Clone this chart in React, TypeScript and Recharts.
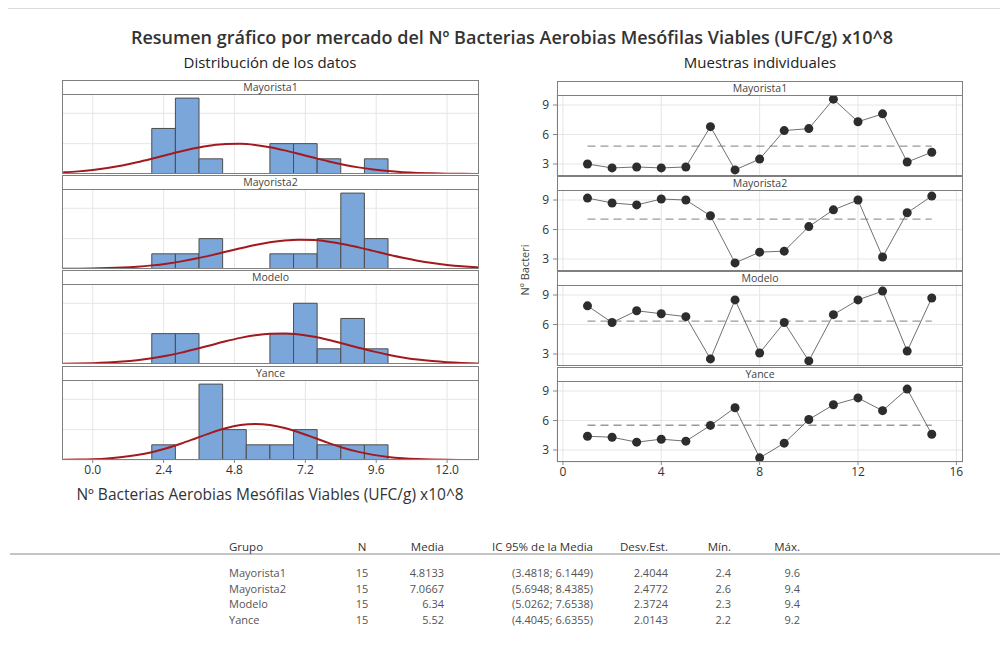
import { ComposedChart, Bar, Line, XAxis, YAxis, CartesianGrid, ReferenceLine } from 'recharts';

const GROUPS = ['Mayorista1', 'Mayorista2', 'Modelo', 'Yance'];

// histogram bins (midpoints, width 0.8) and counts
const BIN_MIDS = [2.4, 3.2, 4.0, 4.8, 5.6, 6.4, 7.2, 8.0, 8.8, 9.6];
const COUNTS_MAYORISTA1 = [3, 5, 1, 0, 0, 2, 2, 1, 0, 1];
const COUNTS_MAYORISTA2 = [1, 1, 2, 0, 0, 1, 1, 2, 5, 2];
const COUNTS_MODELO = [2, 2, 0, 0, 0, 2, 4, 1, 3, 1];
const COUNTS_YANCE = [1, 0, 5, 2, 1, 1, 2, 1, 1, 1];

// fitted normal curves, heights read along the x axis
const CURVE_X = [-1, -0.5, 0, 0.5, 1, 1.5, 2, 2.5, 3, 3.5, 4, 4.5, 5, 5.5, 6, 6.5, 7, 7.5, 8, 8.5, 9, 9.5, 10, 10.5, 11, 11.5, 12, 12.5, 13, 13.5];
const CURVE_MAYORISTA1 = [0.107, 0.173, 0.268, 0.398, 0.566, 0.77, 1.004, 1.253, 1.498, 1.715, 1.88, 1.974, 1.985, 1.912, 1.763, 1.557, 1.317, 1.067, 0.827, 0.615, 0.437, 0.298, 0.194, 0.121, 0.073, 0.042, 0.023, 0.012, 0.006, 0.003];
const CURVE_MAYORISTA2 = [0.01, 0.018, 0.033, 0.058, 0.096, 0.155, 0.239, 0.353, 0.502, 0.685, 0.898, 1.13, 1.365, 1.582, 1.761, 1.883, 1.932, 1.903, 1.8, 1.635, 1.425, 1.193, 0.959, 0.74, 0.548, 0.39, 0.266, 0.174, 0.11, 0.066];
const CURVE_MODELO = [0.017, 0.032, 0.057, 0.098, 0.16, 0.252, 0.379, 0.544, 0.749, 0.986, 1.241, 1.494, 1.72, 1.895, 1.997, 2.013, 1.941, 1.791, 1.58, 1.333, 1.076, 0.831, 0.614, 0.434, 0.293, 0.19, 0.117, 0.069, 0.039, 0.021];
const CURVE_YANCE = [0.013, 0.027, 0.056, 0.106, 0.192, 0.324, 0.516, 0.772, 1.087, 1.437, 1.788, 2.091, 2.299, 2.377, 2.31, 2.111, 1.814, 1.466, 1.114, 0.796, 0.534, 0.337, 0.2, 0.112, 0.059, 0.029, 0.013, 0.006, 0.002, 0.001];

// individual samples 1..15
const SAMPLE_NO = [1, 2, 3, 4, 5, 6, 7, 8, 9, 10, 11, 12, 13, 14, 15];
const VALUES_MAYORISTA1 = [3.0, 2.6, 2.7, 2.6, 2.7, 6.8, 2.4, 3.5, 6.4, 6.6, 9.6, 7.3, 8.1, 3.2, 4.2];
const VALUES_MAYORISTA2 = [9.2, 8.7, 8.5, 9.1, 9.0, 7.4, 2.6, 3.7, 3.8, 6.3, 8.0, 9.0, 3.2, 7.7, 9.4];
const VALUES_MODELO = [7.9, 6.2, 7.4, 7.1, 6.8, 2.5, 8.5, 3.1, 6.2, 2.3, 7.0, 8.5, 9.4, 3.3, 8.7];
const VALUES_YANCE = [4.4, 4.3, 3.8, 4.1, 3.9, 5.5, 7.3, 2.2, 3.7, 6.1, 7.6, 8.3, 7.0, 9.2, 4.6];

const HIST_TICKS = [0, 2.4, 4.8, 7.2, 9.6, 12];
const IND_X_TICKS = [0, 4, 8, 12, 16];
const IND_Y_TICKS = [3, 6, 9];

// summary table
const TABLE_HEAD = ['Grupo', 'N', 'Media', 'IC 95% de la Media', 'Desv.Est.', 'Mín.', 'Máx.'];
const TABLE_N = [15, 15, 15, 15];
const TABLE_MEAN = ['4.8133', '7.0667', '6.34', '5.52'];
const TABLE_CI = ['(3.4818; 6.1449)', '(5.6948; 8.4385)', '(5.0262; 7.6538)', '(4.4045; 6.6355)'];
const TABLE_SD = ['2.4044', '2.4772', '2.3724', '2.0143'];
const TABLE_MIN = ['2.4', '2.6', '2.3', '2.2'];
const TABLE_MAX = ['9.6', '9.4', '9.4', '9.2'];

const COUNTS = [COUNTS_MAYORISTA1, COUNTS_MAYORISTA2, COUNTS_MODELO, COUNTS_YANCE];
const CURVES = [CURVE_MAYORISTA1, CURVE_MAYORISTA2, CURVE_MODELO, CURVE_YANCE];
const VALUES = [VALUES_MAYORISTA1, VALUES_MAYORISTA2, VALUES_MODELO, VALUES_YANCE];

const FONT = '"Open Sans", "Noto Sans", sans-serif';
const BORDER = '#7f7f7f';
const GRID = '#e6e6e6';

// layout
const HEAD_H = 14;
const HIST_L = 62;
const HIST_W = 417;
const HIST_TOPS = [80, 175, 270, 366];
const HIST_PLOT_H = 80;
const HIST_DOMAIN = [-1.04, 13.08];
const HIST_Y_DOMAIN = [0, 5.27];
const IND_L = 557;
const IND_W = 406;
const IND_TOPS = [81, 176, 271, 367];
const IND_PLOT_H = 81;
const IND_YAXIS_W = 22;
const NO_MARGIN = { top: 0, right: 0, bottom: 0, left: 0 };

const emptyTick = () => <g />;

function Header({ left, top, width, label }: { left: number; top: number; width: number; label: string }) {
  return (
    <div
      style={{
        position: 'absolute', left, top, width, height: HEAD_H + 1, boxSizing: 'border-box',
        border: `1px solid ${BORDER}`, background: '#fff', textAlign: 'center',
        fontSize: 10.5, lineHeight: `${HEAD_H - 1}px`, color: '#444',
      }}
    >
      {label}
    </div>
  );
}

function Frame({ left, top, width, height }: { left: number; top: number; width: number; height: number }) {
  return (
    <div
      style={{
        position: 'absolute', left, top, width, height, boxSizing: 'border-box',
        border: `1px solid ${BORDER}`, pointerEvents: 'none',
      }}
    />
  );
}

function HistPanel({ idx }: { idx: number }) {
  const top = HIST_TOPS[idx];
  const last = idx === GROUPS.length - 1;
  const data = BIN_MIDS.map((x, i) => ({ x, count: COUNTS[idx][i] }));
  const curve = CURVE_X.map((x, i) => ({ x, y: CURVES[idx][i] }));
  // bin width 0.8 in pixels, a hair under the band so recharts keeps it
  const barPx = ((0.8 * HIST_W) / (HIST_DOMAIN[1] - HIST_DOMAIN[0])) * 0.999;
  return (
    <>
      <div style={{ position: 'absolute', left: HIST_L, top: top + HEAD_H }}>
        <ComposedChart width={HIST_W} height={HIST_PLOT_H + (last ? 22 : 0)} data={data} margin={NO_MARGIN}>
          <CartesianGrid stroke={GRID} />
          <XAxis
            dataKey="x" type="number" domain={HIST_DOMAIN} ticks={HIST_TICKS} allowDataOverflow interval={0}
            height={last ? 22 : 0} axisLine={false}
            tick={last ? { fill: '#333', fontSize: 12, fontFamily: FONT } : emptyTick}
            tickLine={last ? { stroke: '#888' } : false} tickSize={3}
            tickFormatter={(v: number) => v.toFixed(1)}
          />
          <YAxis type="number" domain={HIST_Y_DOMAIN} ticks={[2, 4]} allowDataOverflow width={0} interval={0} tick={emptyTick} axisLine={false} tickLine={false} />
          <Bar dataKey="count" barSize={barPx} fill="#7ba6da" stroke="#4d4d4d" strokeWidth={1} isAnimationActive={false} />
        </ComposedChart>
      </div>
      <div style={{ position: 'absolute', left: HIST_L, top: top + HEAD_H }}>
        <ComposedChart width={HIST_W} height={HIST_PLOT_H} data={curve} margin={NO_MARGIN}>
          <XAxis dataKey="x" type="number" domain={HIST_DOMAIN} allowDataOverflow hide />
          <YAxis type="number" domain={HIST_Y_DOMAIN} allowDataOverflow hide />
          <Line dataKey="y" type="monotone" stroke="#a31a1e" strokeWidth={2} dot={false} isAnimationActive={false} />
        </ComposedChart>
      </div>
      <Header left={HIST_L} top={top} width={HIST_W} label={GROUPS[idx]} />
      <Frame left={HIST_L} top={top + HEAD_H} width={HIST_W} height={HIST_PLOT_H} />
    </>
  );
}

function IndPanel({ idx }: { idx: number }) {
  const top = IND_TOPS[idx];
  const last = idx === GROUPS.length - 1;
  const data = SAMPLE_NO.map((i, k) => ({ i, v: VALUES[idx][k] }));
  const mean = Number(TABLE_MEAN[idx]);
  return (
    <>
      <div style={{ position: 'absolute', left: IND_L - IND_YAXIS_W, top: top + HEAD_H }}>
        <ComposedChart width={IND_W + IND_YAXIS_W} height={IND_PLOT_H + (last ? 22 : 0)} data={data} margin={NO_MARGIN}>
          <CartesianGrid stroke={GRID} />
          <XAxis
            dataKey="i" type="number" domain={[-0.24, 16.27]} ticks={IND_X_TICKS} allowDataOverflow interval={0}
            height={last ? 22 : 0} axisLine={false}
            tick={last ? { fill: '#333', fontSize: 12, fontFamily: FONT } : emptyTick}
            tickLine={last ? { stroke: '#888' } : false} tickSize={3}
          />
          <YAxis
            type="number" domain={[1.78, 10.02]} ticks={IND_Y_TICKS} allowDataOverflow width={IND_YAXIS_W} interval={0}
            axisLine={false} tickSize={4} tickMargin={4}
            tick={{ fill: '#333', fontSize: 12, fontFamily: FONT }} tickLine={{ stroke: '#888' }}
          />
          <ReferenceLine segment={[{ x: 1, y: mean }, { x: 15, y: mean }]} stroke="#9a9a9a" strokeWidth={1.3} strokeDasharray="8 5" />
          <Line
            dataKey="v" type="linear" stroke="#707070" strokeWidth={1}
            dot={{ r: 4.5, fill: '#2d2d2d', stroke: '#2d2d2d', strokeWidth: 0 }}
            isAnimationActive={false}
          />
        </ComposedChart>
      </div>
      <Header left={IND_L} top={top} width={IND_W} label={GROUPS[idx]} />
      <Frame left={IND_L} top={top + HEAD_H} width={IND_W} height={IND_PLOT_H} />
    </>
  );
}

const TXT = { position: 'absolute' as const, whiteSpace: 'nowrap' as const };

function Cell({ x, y, align, text, color, size = 11 }: { x: number; y: number; align: 'l' | 'c' | 'r'; text: string; color: string; size?: number }) {
  const style: any = { ...TXT, top: y - 8, height: 16, lineHeight: '16px', fontSize: size, color };
  if (align === 'l') style.left = x;
  if (align === 'r') style.right = 1008 - x;
  if (align === 'c') { style.left = x; style.transform = 'translateX(-50%)'; }
  return <div style={style}>{text}</div>;
}

// column anchors: x, alignment
const COLS: [number, 'l' | 'c' | 'r'][] = [[229, 'l'], [362, 'c'], [444, 'r'], [593, 'r'], [668, 'r'], [731, 'r'], [800, 'r']];
const ROW_Y = [573, 588.5, 604, 619.5];

export default function App() {
  return (
    <div style={{ position: 'relative', width: 1008, height: 664, margin: -8, background: '#fff', fontFamily: FONT, overflow: 'hidden' }}>
      <div style={{ position: 'absolute', left: 7, top: 8, width: 1001, height: 656, borderLeft: '1px solid #dcdcdc', borderTop: '1px solid #dcdcdc' }} />

      <div style={{ ...TXT, left: 512, top: 25, transform: 'translateX(-50%)', fontSize: 18, fontWeight: 600, color: '#333', lineHeight: '24px' }}>
        Resumen gráfico por mercado del Nº Bacterias Aerobias Mesófilas Viables (UFC/g) x10^8
      </div>
      <div style={{ ...TXT, left: 270, top: 52, transform: 'translateX(-50%)', fontSize: 15, color: '#222', lineHeight: '20px' }}>
        Distribución de los datos
      </div>
      <div style={{ ...TXT, left: 760, top: 52, transform: 'translateX(-50%)', fontSize: 15, color: '#222', lineHeight: '20px' }}>
        Muestras individuales
      </div>

      {GROUPS.map((g, i) => <HistPanel key={`h-${g}`} idx={i} />)}
      {GROUPS.map((g, i) => <IndPanel key={`i-${g}`} idx={i} />)}

      <div style={{ ...TXT, left: 270, top: 483, transform: 'translateX(-50%)', fontSize: 15.5, color: '#333', lineHeight: '22px' }}>
        Nº Bacterias Aerobias Mesófilas Viables (UFC/g) x10^8
      </div>
      <div style={{ ...TXT, left: 525, top: 270, transform: 'translate(-50%, -50%) rotate(-90deg)', fontSize: 11, color: '#444', lineHeight: '14px' }}>
        Nº Bacteri
      </div>

      <div style={{ position: 'absolute', left: 10, top: 553, width: 998, height: 2, background: '#c4c4c4' }} />
      {TABLE_HEAD.map((h, c) => (
        <Cell key={h} x={COLS[c][0]} y={547} align={COLS[c][1]} text={h} color="#333" size={11.5} />
      ))}
      {GROUPS.map((g, r) => {
        const row = [g, String(TABLE_N[r]), TABLE_MEAN[r], TABLE_CI[r], TABLE_SD[r], TABLE_MIN[r], TABLE_MAX[r]];
        return row.map((t, c) => (
          <Cell key={`${g}-${c}`} x={COLS[c][0]} y={ROW_Y[r]} align={COLS[c][1]} text={t} color="#555" />
        ));
      })}
    </div>
  );
}
